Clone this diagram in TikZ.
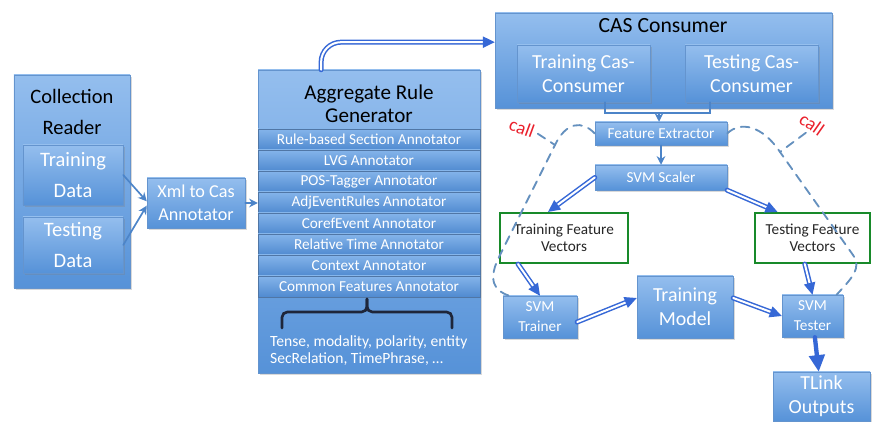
\documentclass[tikz,border=0pt]{standalone}
\usepackage{fontspec}
\setmainfont{Carlito}
\usetikzlibrary{arrows.meta,positioning,shadows}

\definecolor{boxtop}{RGB}{148,190,238}
\definecolor{boxbot}{RGB}{86,146,216}
\definecolor{boxline}{RGB}{100,148,206}
\definecolor{rowtop}{RGB}{132,180,234}
\definecolor{rowbot}{RGB}{80,138,208}
\definecolor{arrowblue}{RGB}{54,104,214}
\definecolor{linkblue}{RGB}{76,132,200}
\definecolor{dashblue}{RGB}{100,144,190}
\definecolor{fvgreen}{RGB}{24,138,42}
\definecolor{callred}{RGB}{234,32,44}
\definecolor{bracedark}{RGB}{30,38,58}

\begin{document}
\begin{tikzpicture}[x=0.3mm,y=-0.3mm,line cap=round,
  box/.style={draw=boxline,line width=0.4pt,top color=boxtop,bottom color=boxbot,
    inner sep=0pt,text=white,align=center,
    drop shadow={opacity=0.3,shadow xshift=0.5mm,shadow yshift=-0.6mm}},
  row/.style={draw=boxline!80!black,line width=0.4pt,top color=rowtop,bottom color=rowbot,
    inner sep=0pt,text=white,minimum width=66.6mm,minimum height=6.3mm,
    font=\fontsize{13}{15}\selectfont},
  fv/.style={draw=fvgreen,line width=0.65mm,fill=white,inner sep=0pt,align=center,
    text=black!85,minimum height=15mm,font=\fontsize{13}{14.5}\selectfont},
  title/.style={text=black,align=center},
  big/.style={font=\fontsize{17.5}{26}\selectfont},
  mid/.style={font=\fontsize{17}{20.5}\selectfont},
  small/.style={font=\fontsize{13}{17}\selectfont},
  link/.style={draw=linkblue,line width=0.5mm,-{Stealth[length=2.6mm,width=2.6mm]}},
  dbl/.style={draw=arrowblue,double=white,double distance=0.6mm,line width=0.45mm,
    -{Triangle[length=3.6mm,width=3.4mm]}},
  callline/.style={draw=dashblue,line width=0.55mm,dash pattern=on 2.6mm off 2mm},
  call/.style={text=callred,font=\fontsize{16}{16}\selectfont}]

\useasboundingbox (0,0) rectangle (877,422);

% reader side
\node[box,minimum width=34.8mm,minimum height=63.9mm] (reader) at (72,181.5) {};
\node[title,big] (readertitle) at (72,112) {Collection\\Reader};
\node[box,big,minimum width=30mm,minimum height=18mm] (trdata) at (73,175) {Training\\Data};
\node[box,big,minimum width=30mm,minimum height=16.8mm] (tsdata) at (73,245) {Testing\\Data};
\node[box,font=\fontsize{15.5}{19.5}\selectfont,minimum width=29.4mm,minimum height=15mm]
  (xml) at (196,203) {Xml to Cas\\Annotator};

% rule generator and its annotators
\node[box,minimum width=66.6mm,minimum height=90.9mm] (agg) at (369,221.5) {};
\node[title,font=\fontsize{18}{20}\selectfont] (aggtitle) at (369,104) {Aggregate Rule\\Generator};
\foreach \t [count=\i] in {Rule-based Section Annotator,LVG Annotator,POS-Tagger Annotator,
    AdjEventRules Annotator,CorefEvent Annotator,Relative Time Annotator,Context Annotator,
    Common Features Annotator}
  \node[row] (r\i) at (369,{118.5+21*\i}) {\t};
\draw[bracedark,line width=0.8mm,rounded corners=1.6mm] (282,328) |- (367,312) -- (367,299);
\draw[bracedark,line width=0.8mm,rounded corners=1.6mm] (452,328) |- (367,312) -- (367,299);
\node[text=white,align=left,anchor=west,font=\fontsize{13.3}{14.5}\selectfont] (feats) at (266,351)
  {Tense, modality, polarity, entity\\SecRelation, TimePhrase, …};

% consumers
\node[box,minimum width=101.1mm,minimum height=28.5mm] (cas) at (663.5,60.5) {};
\node[title,font=\fontsize{18.5}{20}\selectfont] (castitle) at (663,26) {CAS Consumer};
\node[box,mid,minimum width=39.9mm,minimum height=17.1mm] (trcas) at (583.5,73.5) {Training Cas-\\Consumer};
\node[box,mid,minimum width=39.9mm,minimum height=17.1mm] (tscas) at (751.5,73.5) {Testing Cas-\\Consumer};

% svm pipeline
\node[box,small,minimum width=39.6mm,minimum height=6.9mm] (fe) at (661,133.5) {Feature Extractor};
\node[box,small,minimum width=39.6mm,minimum height=7.5mm] (scaler) at (661,177.5) {SVM Scaler};
\node[fv,minimum width=38.4mm] (trfv) at (564,238) {Training Feature\\Vectors};
\node[fv,minimum width=34.5mm] (tsfv) at (812.5,238) {Testing Feature\\Vectors};
\node[box,small,minimum width=22.2mm,minimum height=12.6mm] (trainer) at (540,317) {SVM\\Trainer};
\node[box,mid,minimum width=28.8mm,minimum height=18.6mm] (model) at (685,307) {Training\\Model};
\node[box,small,minimum width=18.3mm,minimum height=12.6mm] (tester) at (812.5,316) {SVM\\Tester};
\node[box,mid,minimum width=29.1mm,minimum height=14.7mm] (tlink) at (821.5,396.5) {TLink\\Outputs};

\draw[link] (trdata.east) -- ([yshift=0.5mm]xml.west);
\draw[link] (tsdata.east) -- ([yshift=-0.8mm]xml.west);
\draw[link] (xml.east) -- (xml.east -| agg.west);

\coordinate (join) at (659,113);
\draw[linkblue,line width=0.45mm] ([xshift=6.5mm]trcas.south) |- (join) -| ([xshift=-12.5mm]tscas.south);
\draw[link,line width=0.4mm] (join) -- (join |- fe.north);
\draw[link,line width=0.4mm] (fe) -- (scaler);

\draw[dbl,rounded corners=6mm] ([xshift=19mm]agg.north west) |- ([yshift=5.5mm]cas.west);
\draw[dbl] (scaler.west) -- ([xshift=-4.8mm]trfv.north);
\draw[dbl] (scaler.south east) -- ([xshift=-10.5mm]tsfv.north);
\draw[dbl] ([xshift=-13.8mm]trfv.south) -- (trainer.north);
\draw[dbl] ([xshift=-2.3mm]tsfv.south) -- (tester.north);
\draw[dbl] ([yshift=-1.5mm]trainer.east) -- ([yshift=2.7mm]model.west);
\draw[dbl] ([yshift=2.7mm]model.east) -- (tester.west);
\draw[arrowblue,line width=1.3mm,-{Triangle[length=5mm,width=4.6mm]}] (tester) -- (tlink);

% call paths
\node[call,rotate=-20] (lcall) at (522,128) {call};
\node[call,rotate=-35] (rcall) at (812,124) {call};
\coordinate (lbend) at (555,145);
\coordinate (rbend) at (780,152);
\draw[callline] (fe.west) .. controls (582,120) and (566,122) .. (lbend) -- (500,255)
  .. controls (487,280) and (494,291) .. ([xshift=2mm]trainer.north west);
\draw[callline] (fe.east) .. controls (740,121) and (762,125) .. (rbend) -- (853,255)
  .. controls (862,268) and (852,278) .. ([xshift=-2mm]tester.north east);
\draw[callline] (lcall.east) -- (lbend);
\draw[callline] (rcall.south) -- (rbend);
\end{tikzpicture}
\end{document}
